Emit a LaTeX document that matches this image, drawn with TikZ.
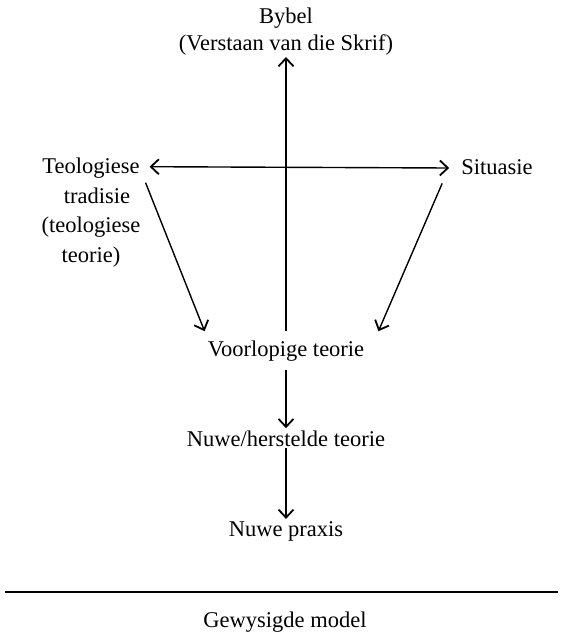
\documentclass[tikz,border=0pt]{standalone}
\usepackage{fontspec}
\setmainfont{Liberation Serif}
\usetikzlibrary{arrows.meta}
\begin{document}
\begin{tikzpicture}[x=1pt,y=-1pt,
  every node/.style={font=\fontsize{22.5}{29.5}\selectfont, inner sep=2pt, anchor=base},
  pyl/.style={-{Straight Barb[length=8pt,width=15pt,line width=1.8pt]}, line width=1.4pt}]
\useasboundingbox (0,0) rectangle (562,633);
\node[align=center] (bybel) at (286,50) {Bybel\\[-2.5pt](Verstaan van die Skrif)};
\node[align=center] (tradisie) at (91,262) {Teologiese\\\hspace*{12pt}tradisie\\(teologiese\\teorie)};
\node (situasie) at (497,174) {Situasie};
\node[inner ysep=9pt] (voorlopig) at (286,356) {Voorlopige teorie};
\node (herstel) at (286,446) {Nuwe/herstelde teorie};
\node (praxis) at (286,536) {Nuwe praxis};
\node (model) at (285,627) {Gewysigde model};
\draw[pyl] (voorlopig.north) -- (bybel.south);
\draw[pyl,{Straight Barb[length=8pt,width=15pt,line width=1.8pt]}-{Straight Barb[length=8pt,width=15pt,line width=1.8pt]}]
  ([xshift=7pt,yshift=-11pt]tradisie.north east) -- ([xshift=-10pt,yshift=6pt]situasie.base west);
\draw[pyl] ([xshift=3pt,yshift=-27pt]tradisie.north east) -- ([xshift=-1pt]voorlopig.north west);
\draw[pyl] ([xshift=-17pt,yshift=-7pt]situasie.south west) -- ([xshift=12pt]voorlopig.north east);
\draw[pyl] (voorlopig.south) -- (herstel.north);
\draw[pyl] (herstel.south) -- (praxis.north);
\draw[line width=1.4pt] (5,592) -- (558,592);
\end{tikzpicture}
\end{document}
